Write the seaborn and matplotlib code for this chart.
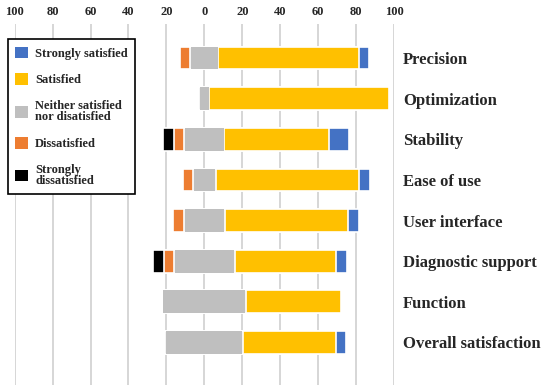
import matplotlib
matplotlib.use('Agg')
import numpy as np
import pandas as pd
import matplotlib.pyplot as plt
from matplotlib.patches import Patch
import seaborn as sns

# --- Data (percent of respondents) ---
categories = ['Precision', 'Optimization', 'Stability', 'Ease of use',
              'User interface', 'Diagnostic support', 'Function', 'Overall satisfaction']
strongly_dissatisfied = [0, 0, 5.5, 0, 0, 5.5, 0, 0]
dissatisfied = [5.5, 0, 5.7, 5.5, 5.6, 5.5, 0, 0]
neutral = [14.9, 5.4, 21.1, 11.9, 21.4, 31.9, 44, 41]
satisfied = [74.3, 94.6, 55, 75.6, 64.9, 53.5, 50.1, 48.8]
strongly_satisfied = [5.1, 0, 10.8, 5.6, 5.7, 5.6, 0, 5.5]

legend_labels = ['Strongly satisfied', 'Satisfied', 'Neither satisfied\nnor disatisfied',
                 'Dissatisfied', 'Strongly\ndissatisfied']
colors = {'ss': '#4472C4', 's': '#FFC000', 'n': '#BFBFBF', 'd': '#ED7D31', 'sd': '#000000'}

sns.set_style('white')
plt.rcParams['font.family'] = ['Liberation Serif', 'DejaVu Serif']
plt.rcParams['font.weight'] = 'bold'

df = pd.DataFrame({'item': categories, 'sd': strongly_dissatisfied, 'd': dissatisfied,
                   'n': neutral, 's': satisfied, 'ss': strongly_satisfied})
half = df['n'] / 2
# cumulative ends for the diverging stack (neutral split around zero)
df['pos_ss'] = half + df['s'] + df['ss']
df['pos_s'] = half + df['s']
df['neg_sd'] = -(half + df['d'] + df['sd'])
df['neg_d'] = -(half + df['d'])
df['pos_n'] = half
df['neg_n'] = -half

fig = plt.figure(figsize=(5.5, 3.85), dpi=100)
ax = fig.add_axes([14.7 / 550, 0, (394 - 14.7) / 550, 1 - 24 / 385])

bar_h = 0.56
common = dict(y='item', orient='h', width=bar_h, saturation=1, errorbar=None,
              edgecolor='white', linewidth=1.2, ax=ax)
sns.barplot(data=df, x='pos_ss', color=colors['ss'], **common)
sns.barplot(data=df, x='pos_s', color=colors['s'], **common)
sns.barplot(data=df, x='neg_sd', color=colors['sd'], **common)
sns.barplot(data=df, x='neg_d', color=colors['d'], **common)
sns.barplot(data=df, x='pos_n', color=colors['n'], **common)
sns.barplot(data=df, x='neg_n', color=colors['n'], **common)
# cover the seam of the neutral block at zero
cover = dict(y='item', orient='h', width=bar_h, saturation=1, errorbar=None,
             linewidth=0, ax=ax)
sns.barplot(data=df.assign(c=half - 0.4), x='c', color=colors['n'], **cover)
sns.barplot(data=df.assign(c=-(half - 0.4)), x='c', color=colors['n'], **cover)

ax.set_xlim(-100, 100)
ax.set_ylim(8.05, -0.84)
ax.set_xlabel('')
ax.set_ylabel('')
for s in ax.spines.values():
    s.set_visible(False)

ticks = list(range(-100, 101, 20))
ax.set_xticks(ticks)
ax.set_xticklabels([str(abs(t)) for t in ticks])
ax.xaxis.tick_top()
ax.tick_params(axis='x', length=0, pad=4.5, labelsize=9)
ax.xaxis.grid(True, color='#d0d0d0', linewidth=1.2)
ax.set_axisbelow(True)

ax.yaxis.tick_right()
ax.tick_params(axis='y', length=0, pad=6.5, labelsize=12)
for lbl in ax.get_yticklabels():
    lbl.set_fontweight('bold')
for lbl in ax.get_xticklabels():
    lbl.set_fontweight('bold')

handles = [Patch(facecolor=colors[k], edgecolor='none') for k in ['ss', 's', 'n', 'd', 'sd']]
leg = ax.legend(handles, legend_labels, loc='upper left',
                bbox_to_anchor=(7.5 / 550, 1 - 39 / 385), bbox_transform=fig.transFigure,
                borderaxespad=0, frameon=True, fancybox=False, framealpha=1,
                edgecolor='black', handlelength=1.05, handleheight=1.05,
                handletextpad=0.55, labelspacing=1.1, borderpad=0.6,
                prop={'size': 9, 'weight': 'bold'})
leg.get_frame().set_linewidth(1.2)
for t in leg.get_texts():
    t.set_linespacing(0.9)

fig.savefig('out.png', dpi=100)
